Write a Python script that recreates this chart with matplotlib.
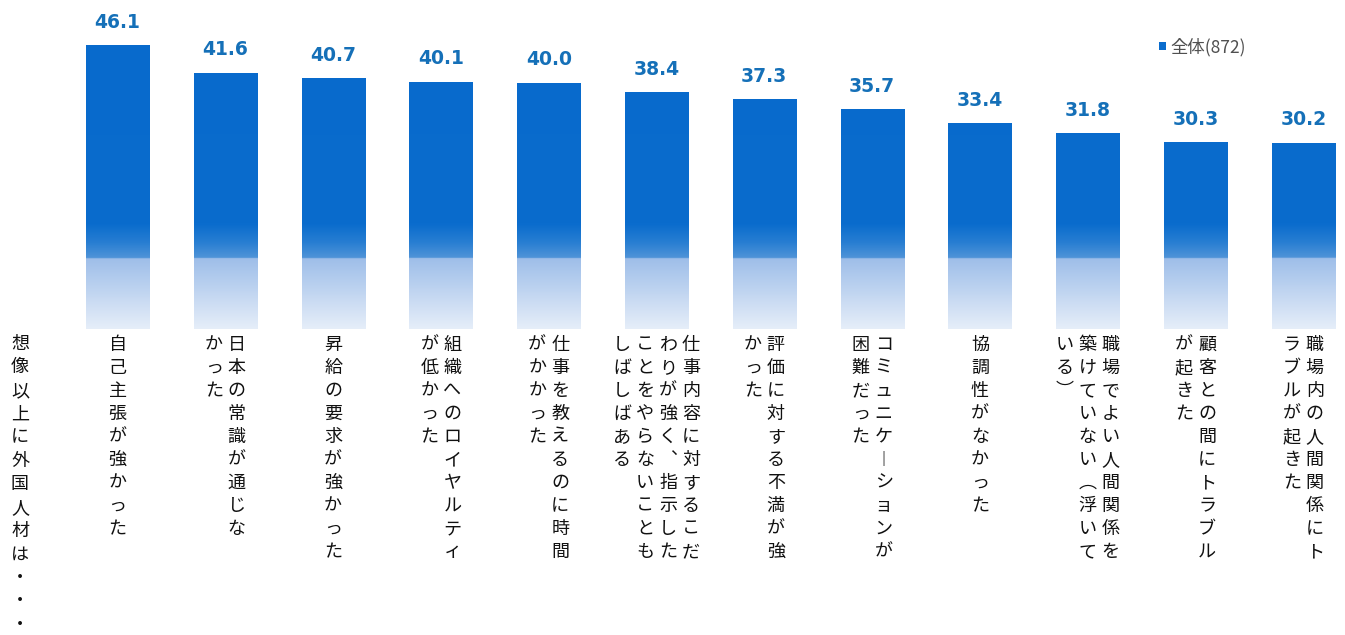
import numpy as np
import matplotlib.pyplot as plt
from matplotlib.patches import Patch

plt.rcParams['font.family'] = ['Noto Sans CJK JP', 'DejaVu Sans']

# 想像以上に外国人材は・・・ (%)
values = [46.1, 41.6, 40.7, 40.1, 40.0, 38.4, 37.3, 35.7, 33.4, 31.8, 30.3, 30.2]
# category labels, one string per vertical column (right to left)
labels = [
    ["自己主張が強かった"],
    ["日本の常識が通じな", "かった"],
    ["昇給の要求が強かった"],
    ["組織へのロイヤルティ", "が低かった"],
    ["仕事を教えるのに時間", "がかかった"],
    ["仕事内容に対するこだ", "わりが強く、指示した", "ことをやらないことも", "しばしばある"],
    ["評価に対する不満が強", "かった"],
    ["コミュニケーションが", "困難だった"],
    ["協調性がなかった"],
    ["職場でよい人間関係を", "築けていない（浮いて", "いる）"],
    ["顧客との間にトラブル", "が起きた"],
    ["職場内の人間関係にト", "ラブルが起きた"],
]
caption = "想像以上に外国人材は・・・"
series_name = "全体(872)"

W, H = 1345, 635
fig = plt.figure(figsize=(W / 100, H / 100), dpi=100)
ax = fig.add_axes([0, 0, 1, 1])

# axis scale: bar spacing and value scale in pixels
step_px, first_px = 107.8, 117.5
unit_px, base_px = 6.16, 329
ax.set_xlim(-first_px / step_px, (W - first_px) / step_px)
ax.set_ylim((base_px - H) / unit_px, base_px / unit_px)
ax.axis('off')

x = np.arange(len(values))
bar_w = 0.585
bars = ax.bar(x, values, width=bar_w, color='none', edgecolor='none')

# vertical gradient shared by every bar: solid blue, then a lighter lower band
top = max(values)
stops_y = [0.0, 11.45, 11.5, 14.0, 17.0, top]
stops_c = np.array([
    [230, 238, 249],
    [158, 190, 233],
    [80, 148, 216],
    [40, 126, 210],
    [10, 108, 205],
    [8, 106, 204],
]) / 255
yy = np.linspace(0, top, 600)
grad = np.stack([np.interp(yy, stops_y, stops_c[:, k]) for k in range(3)], axis=-1)
grad = grad[:, None, :]

for xi, bar in zip(x, bars):
    im = ax.imshow(grad, origin='lower', aspect='auto', interpolation='bilinear',
                   extent=(xi - bar_w / 2, xi + bar_w / 2, 0, top), zorder=2)
    im.set_clip_path(bar)

# value labels above bars
for xi, v in zip(x, values):
    ax.annotate(f'{v:.1f}', xy=(xi, v), xytext=(0, 23 * 0.72), textcoords='offset points',
                ha='center', va='center', fontsize=13.5, fontweight='bold',
                color='#1570b8', family='DejaVu Sans')

# vertical forms for punctuation in tategaki
vert = {'ー': '︱', '、': '︑', '（': '︵', '）': '︶'}
col_px, row_px = 23, 23

for xi, cols in zip(x, labels):
    n = len(cols)
    for c, line in enumerate(cols):
        dx = ((n - 1) / 2 - c) * col_px
        for r, ch in enumerate(line):
            dy = -16 - r * row_px
            ax.annotate(vert.get(ch, ch), xy=(xi, 0), xytext=(dx * 0.72, dy * 0.72),
                        textcoords='offset points', ha='center', va='center',
                        fontsize=13, color='#111111')

# left caption, also written vertically
for r, ch in enumerate(caption):
    fig.text(20 / W, 1 - (344 + r * 23.4) / H, ch, ha='center', va='center',
             fontsize=13, color='#111111')

ax.legend(handles=[Patch(facecolor='#0a6ccd', edgecolor='none', label=series_name)],
          loc='center left', bbox_to_anchor=(1159 / W, 1 - 47 / H),
          bbox_transform=fig.transFigure, frameon=False, fontsize=12.5,
          handlelength=0.4, handleheight=0.4, handletextpad=0.25,
          borderpad=0, borderaxespad=0, labelcolor='#505050')

fig.savefig('out.png', dpi=100, facecolor='white')
